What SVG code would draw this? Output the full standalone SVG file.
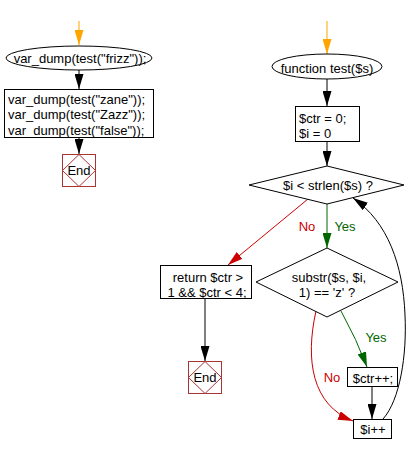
<svg xmlns="http://www.w3.org/2000/svg" width="416" height="454" viewBox="0 0 416 454">
<style>
text{font-family:"Liberation Sans",Arial,sans-serif;font-size:13px;fill:#000}
.c{text-anchor:middle}
.shape{fill:#fff;stroke:#000;stroke-width:1}
.end{fill:#fff;stroke:#a33;stroke-width:1}
.k{fill:none;stroke:#000;stroke-width:1}
.o{fill:none;stroke:#ffa500;stroke-width:1}
.r{fill:none;stroke:#cc0000;stroke-width:1}
.g{fill:none;stroke:#006600;stroke-width:1}
.red{fill:#cc0000}
.grn{fill:#006600}
</style>
<defs>
<marker id="ak" markerUnits="userSpaceOnUse" markerWidth="15" markerHeight="9" refX="15" refY="4.5" orient="auto"><path d="M0,0 L15,4.5 L0,9 z" fill="#000"/></marker>
<marker id="ao" markerUnits="userSpaceOnUse" markerWidth="15" markerHeight="9" refX="15" refY="4.5" orient="auto"><path d="M0,0 L15,4.5 L0,9 z" fill="#ffa500"/></marker>
<marker id="ar" markerUnits="userSpaceOnUse" markerWidth="15" markerHeight="9" refX="15" refY="4.5" orient="auto"><path d="M0,0 L15,4.5 L0,9 z" fill="#cc0000"/></marker>
<marker id="ag" markerUnits="userSpaceOnUse" markerWidth="15" markerHeight="9" refX="15" refY="4.5" orient="auto"><path d="M0,0 L15,4.5 L0,9 z" fill="#006600"/></marker>
</defs>
<rect width="416" height="454" fill="#fff"/>
<g id="connectors">
<path class="o" d="M79,21 L79,45" marker-end="url(#ao)"/>
<path class="k" d="M79,70 L79,89" marker-end="url(#ak)"/>
<path class="k" d="M79,137 L79,154" marker-end="url(#ak)"/>
<path class="o" d="M327,21 L327,54" marker-end="url(#ao)"/>
<path class="k" d="M327,79 L327,106" marker-end="url(#ak)"/>
<path class="k" d="M327,141 L327,166" marker-end="url(#ak)"/>
<path class="g" d="M327,204 L327,248" marker-end="url(#ag)"/>
<path class="r" d="M308,199 L228,265" marker-end="url(#ar)"/>
<path class="k" d="M205,298 L205,361" marker-end="url(#ak)"/>
<path class="g" d="M341,311 Q357,340 367,367" marker-end="url(#ag)"/>
<path class="r" d="M316,311 C305,360 312,405 353,421" marker-end="url(#ar)"/>
<path class="k" d="M372,386 L372,419" marker-end="url(#ak)"/>
<path class="k" d="M383,419 C400,400 407,355 405,315 C403,265 388,222 353,198" marker-end="url(#ak)"/>
<text class="red" x="307" y="231" text-anchor="middle">No</text>
<text class="grn" x="345" y="231" text-anchor="middle">Yes</text>
<text class="grn" x="376" y="342" text-anchor="middle">Yes</text>
<text class="red" x="332" y="382" text-anchor="middle">No</text>
</g>
<g id="start1">
<ellipse class="shape" cx="79" cy="58" rx="73" ry="12"/>
<text class="c" x="80" y="62.5">var_dump(test("frizz"));</text>
</g>
<g id="calls">
<rect class="shape" x="4.5" y="89.5" width="149" height="48"/>
<text x="8" y="103.5">var_dump(test("zane"));</text>
<text x="8" y="119">var_dump(test("Zazz"));</text>
<text x="8" y="134.5">var_dump(test("false"));</text>
</g>
<g id="end1">
<rect class="end" x="62.5" y="154.5" width="33" height="32"/>
<path class="end" d="M79,154.5 L95.5,170.5 L79,186.5 L62.5,170.5 z"/>
<text class="c" x="79" y="175">End</text>
</g>
<g id="start2">
<ellipse class="shape" cx="327" cy="66.5" rx="55" ry="12.5"/>
<text class="c" x="327" y="73">function test($s)</text>
</g>
<g id="init">
<rect class="shape" x="295.5" y="106.5" width="64" height="35"/>
<text x="299" y="122.5">$ctr = 0;</text>
<text x="299" y="137.5">$i = 0</text>
</g>
<g id="cond1">
<path class="shape" d="M327,166 L404,185 L327,204 L249,185 z"/>
<text class="c" x="328" y="189.5">$i &lt; strlen($s) ?</text>
</g>
<g id="ret">
<rect class="shape" x="160.5" y="265.5" width="91" height="33"/>
<text class="c" x="208" y="281.5">return $ctr &gt;</text>
<text class="c" x="207" y="296.5">1 &amp;&amp; $ctr &lt; 4;</text>
</g>
<g id="end2">
<rect class="end" x="188.5" y="361.5" width="33" height="32"/>
<path class="end" d="M205,361.5 L221.5,377.5 L205,393.5 L188.5,377.5 z"/>
<text class="c" x="205" y="382">End</text>
</g>
<g id="cond2">
<path class="shape" d="M327,248 L398,282 L327,317 L256,282 z"/>
<text class="c" x="329" y="281.5">substr($s, $i,</text>
<text class="c" x="327" y="296.5">1) == 'z' ?</text>
</g>
<g id="inc">
<rect class="shape" x="347.5" y="367.5" width="50" height="19"/>
<text class="c" x="373" y="382.5">$ctr++;</text>
</g>
<g id="iinc">
<rect class="shape" x="353.5" y="419.5" width="38" height="19"/>
<text class="c" x="373" y="433.5">$i++</text>
</g>
</svg>
